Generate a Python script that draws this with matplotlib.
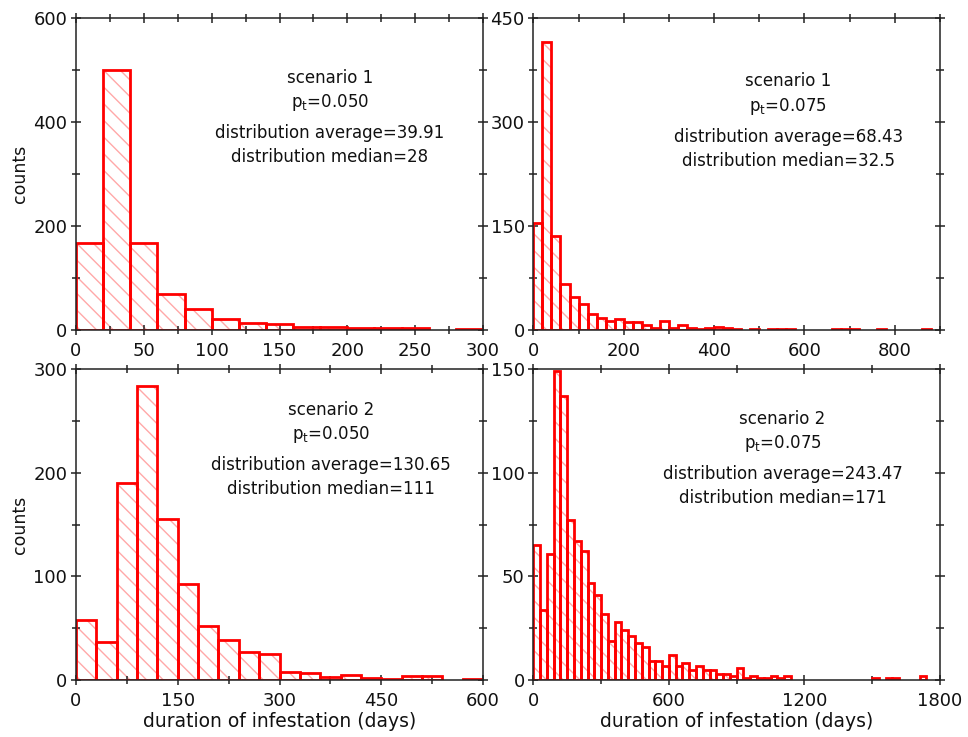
import numpy as np
import matplotlib
matplotlib.use("Agg")
import matplotlib.pyplot as plt
from matplotlib.ticker import MultipleLocator

plt.rcParams['font.family'] = ['DejaVu Sans']
plt.rcParams['mathtext.default'] = 'regular'
plt.rcParams['hatch.linewidth'] = 1.0

# ---------------- data ----------------
# scenario 1, p_t = 0.050 (bin width 20 days, 0-300)
s1_050_binwidth = 20
s1_050_counts = [167, 500, 167, 70, 40, 22, 13, 11, 6, 6, 4, 3, 4, 0, 2]

# scenario 1, p_t = 0.075 (bin width 20 days, 0-900)
s1_075_binwidth = 20
s1_075_counts = [155, 415, 135, 66, 47, 38, 23, 17, 13, 16,
                 11, 11, 7, 3, 13, 3, 7, 3, 2, 3,
                 5, 3, 1, 0, 1, 0, 1, 1, 1, 0,
                 0, 0, 0, 1, 1, 1, 0, 0, 1, 0,
                 0, 0, 0, 1, 0]

# scenario 2, p_t = 0.050 (bin width 30 days, 0-600)
s2_050_binwidth = 30
s2_050_counts = [58, 37, 190, 284, 155, 93, 52, 39, 27, 25,
                 8, 7, 3, 5, 2, 1, 4, 4, 0, 1]

# scenario 2, p_t = 0.075 (bin width 30 days, 0-1800)
s2_075_binwidth = 30
s2_075_counts = [65, 34, 61, 149, 137, 77, 67, 62, 47, 41,
                 32, 19, 28, 24, 21, 18, 16, 9, 9, 7,
                 12, 7, 8, 5, 7, 5, 5, 3, 3, 2,
                 6, 1, 2, 1, 1, 2, 1, 2, 0, 0,
                 0, 0, 0, 0, 0, 0, 0, 0, 0, 0,
                 1, 0, 1, 1, 0, 0, 0, 2, 0, 0]

scenario_labels = ["scenario 1", "scenario 1", "scenario 2", "scenario 2"]
pt_labels = ["0.050", "0.075", "0.050", "0.075"]
averages = ["39.91", "68.43", "130.65", "243.47"]
medians = ["28", "32.5", "111", "171"]

xlims = [300, 900, 600, 1800]
ylims = [600, 450, 300, 150]
x_major = [50, 200, 150, 600]
x_minor = [25, 100, 75, 300]
y_major = [200, 150, 100, 50]
y_minor = [100, 75, 50, 25]

# ---------------- figure ----------------
fig = plt.figure(figsize=(9.68, 7.37), dpi=100)
boxes = [
    [0.0785, 0.5522, 0.4205, 0.4234],
    [0.5510, 0.5522, 0.4200, 0.4234],
    [0.0785, 0.0773, 0.4205, 0.4220],
    [0.5510, 0.0773, 0.4200, 0.4220],
]
text_x = [0.624, 0.627, 0.626, 0.613]
text_y = [
    [0.793, 0.714, 0.614, 0.537],
    [0.782, 0.703, 0.604, 0.527],
    [0.852, 0.775, 0.675, 0.598],
    [0.822, 0.747, 0.646, 0.570],
]

datasets = [
    (s1_050_binwidth, s1_050_counts),
    (s1_075_binwidth, s1_075_counts),
    (s2_050_binwidth, s2_050_counts),
    (s2_075_binwidth, s2_075_counts),
]

red = '#ff0000'
hatch_col = '#ffa8a8'
axis_col = '#222222'

for i, (bw, counts) in enumerate(datasets):
    ax = fig.add_axes(boxes[i])
    counts = np.asarray(counts, dtype=float)
    starts = np.arange(len(counts)) * bw
    m = counts > 0
    # hatched fill
    ax.bar(starts[m], counts[m], width=bw, align='edge', color='white',
           edgecolor=hatch_col, hatch='\\\\', linewidth=0, zorder=1)
    # red outline
    ax.bar(starts[m], counts[m], width=bw, align='edge', fill=False,
           edgecolor=red, linewidth=2.0, zorder=2)

    ax.set_xlim(0, xlims[i])
    ax.set_ylim(0, ylims[i])
    ax.xaxis.set_major_locator(MultipleLocator(x_major[i]))
    ax.xaxis.set_minor_locator(MultipleLocator(x_minor[i]))
    ax.yaxis.set_major_locator(MultipleLocator(y_major[i]))
    ax.yaxis.set_minor_locator(MultipleLocator(y_minor[i]))

    for sp in ax.spines.values():
        sp.set_linewidth(1.1)
        sp.set_color(axis_col)
        sp.set_zorder(3)
    ax.tick_params(which='both', direction='inout', top=True, right=True,
                   color=axis_col, width=1.1, labelsize=13, labelcolor='#111111')
    ax.tick_params(which='major', length=7.5)
    ax.tick_params(which='minor', length=5.5)
    ax.tick_params(axis='x', which='major', pad=5)
    ax.tick_params(axis='y', which='major', pad=2.5)

    if i % 2 == 0:
        ax.set_ylabel('counts', fontsize=12.5, labelpad=3, color='#111111')
    if i >= 2:
        ax.set_xlabel('duration of infestation (days)', fontsize=13.5,
                      labelpad=1, color='#111111')

    lines = [scenario_labels[i],
             r'p$_{t}$=' + pt_labels[i],
             'distribution average=' + averages[i],
             'distribution median=' + medians[i]]
    for txt, ty in zip(lines, text_y[i]):
        ax.text(text_x[i], ty, txt, transform=ax.transAxes, ha='center',
                va='baseline', fontsize=12, color='#111111')

fig.savefig('out.png', dpi=100)
